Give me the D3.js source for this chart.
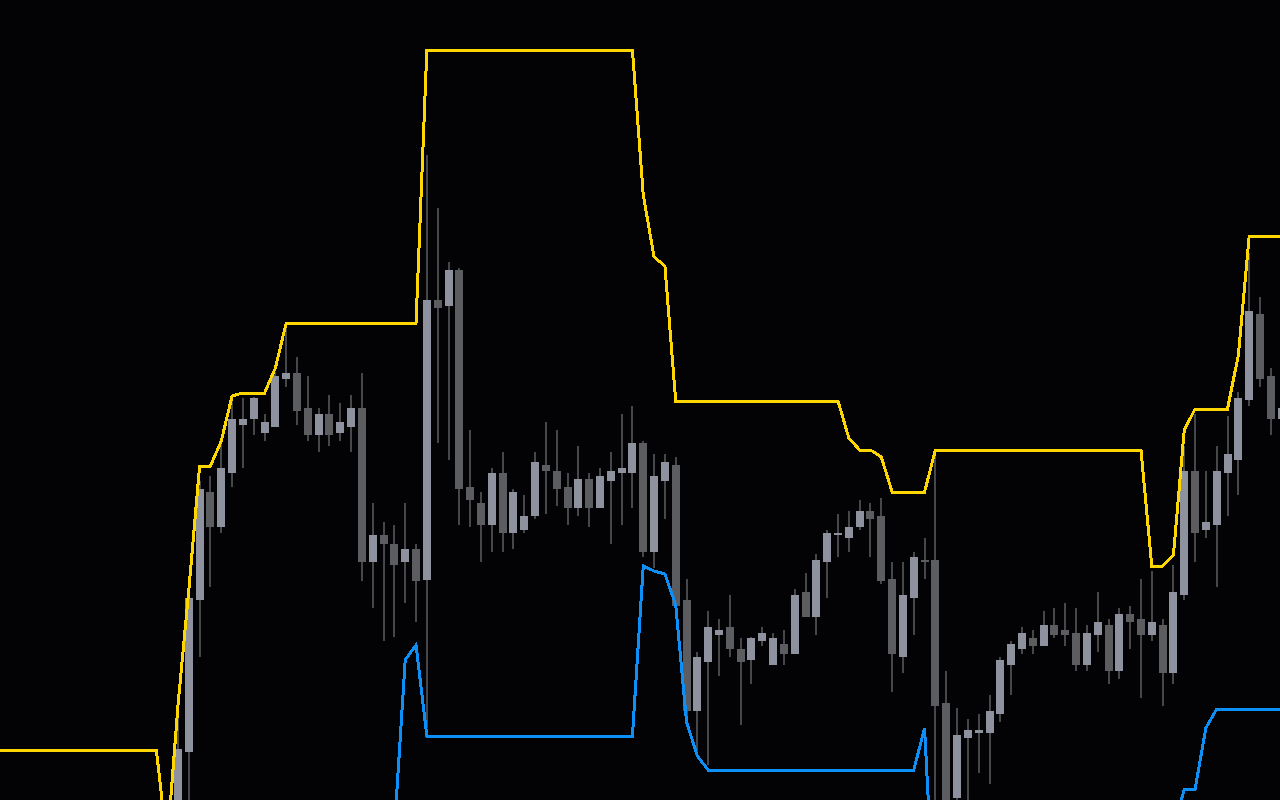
<!DOCTYPE html>
<html>
<head>
<meta charset="utf-8">
<script src="https://cdn.jsdelivr.net/npm/d3@7"></script>
<style>
  html, body { margin: 0; padding: 0; background: #030306; overflow: hidden; }
  svg { display: block; }
</style>
</head>
<body>
<svg id="chart" width="1280" height="800"></svg>
<script>
// ---------------- DATA ----------------
// Bar positions: band lines start 17 bars before the first visible candle.
const firstBar = -17;
const lastBar = 102;

// Candles (bar 0 .. bar 102)
const open = [
  16.0, 24.8, 40.0, 50.8, 47.3, 52.7, 57.5, 58.1, 56.7, 57.3,
  62.1, 62.7, 59.2, 56.5, 58.6, 56.7, 57.3, 59.2, 43.8, 46.5,
  45.6, 43.8, 45.1, 42.0, 70.0, 69.4, 73.0, 51.3, 49.7, 47.5,
  52.7, 46.7, 47.0, 48.4, 53.5, 52.9, 51.3, 49.2, 52.1, 49.2,
  51.9, 52.7, 52.7, 55.7, 44.8, 51.9, 53.5, 40.0, 28.9, 33.8,
  36.5, 37.3, 35.1, 34.0, 35.9, 33.5, 35.6, 34.6, 40.8, 38.3,
  43.8, 46.5, 46.2, 47.3, 48.9, 48.4, 42.1, 34.3, 40.2, 44.0,
  44.0, 29.7, 20.2, 26.2, 26.7, 26.7, 28.6, 33.5, 35.1, 36.2,
  35.4, 37.5, 37.0, 36.7, 33.5, 36.5, 37.5, 32.9, 38.6, 38.1,
  36.5, 37.5, 32.7, 40.5, 52.9, 47.0, 47.5, 52.7, 54.0, 60.0,
  68.6, 62.4, 58.1
];
const high = [
  28.2, 40.5, 51.9, 52.4, 55.7, 60.0, 60.2, 60.3, 58.6, 62.8,
  67.2, 64.3, 62.4, 59.2, 60.5, 59.7, 60.5, 62.7, 49.7, 47.8,
  47.5, 49.7, 45.6, 84.5, 79.2, 73.8, 73.2, 57.0, 50.8, 53.2,
  54.8, 51.1, 50.5, 54.8, 57.8, 57.0, 52.7, 55.4, 52.7, 53.2,
  54.8, 58.6, 59.4, 55.9, 54.6, 54.6, 54.3, 42.1, 34.8, 38.9,
  38.1, 40.5, 36.2, 36.3, 37.3, 36.7, 37.0, 41.1, 42.7, 44.6,
  47.0, 48.6, 48.9, 50.0, 49.7, 50.2, 43.8, 43.8, 44.8, 46.2,
  54.8, 32.9, 29.2, 28.1, 28.6, 30.5, 34.3, 35.9, 37.3, 37.0,
  38.9, 39.2, 39.7, 39.2, 37.5, 40.8, 38.1, 39.2, 39.4, 42.1,
  42.9, 38.1, 43.5, 55.4, 58.6, 52.9, 55.4, 58.4, 60.8, 74.7,
  70.3, 63.2, 60.0
];
const low = [
  14.0, 18.5, 34.3, 41.3, 46.7, 51.3, 53.2, 56.5, 55.9, 57.3,
  61.3, 57.5, 55.9, 54.8, 55.4, 55.9, 54.8, 41.9, 39.2, 35.9,
  36.3, 39.7, 37.8, 27.2, 55.7, 54.0, 47.5, 47.3, 43.8, 44.8,
  44.8, 45.1, 46.7, 48.1, 48.6, 49.4, 47.5, 48.4, 47.3, 49.2,
  45.6, 47.5, 49.2, 44.3, 43.2, 48.1, 39.2, 28.1, 24.8, 23.5,
  32.4, 34.3, 27.5, 31.6, 35.4, 33.5, 33.5, 34.6, 38.3, 36.5,
  40.2, 44.3, 44.8, 47.0, 44.3, 41.6, 30.8, 32.7, 36.5, 42.1,
  19.5, 18.8, 19.2, 19.5, 22.7, 21.6, 27.8, 30.5, 34.6, 34.6,
  35.4, 36.2, 35.4, 32.9, 32.9, 34.8, 31.6, 32.1, 35.1, 30.2,
  35.9, 29.4, 31.6, 40.0, 43.8, 46.2, 41.3, 48.4, 50.5, 59.4,
  61.3, 56.5, 57.5
];
const close = [
  25.1, 40.2, 51.1, 47.3, 53.2, 58.1, 58.1, 60.2, 57.8, 62.4,
  62.7, 58.9, 56.5, 58.6, 56.5, 57.8, 59.2, 43.8, 46.5, 45.6,
  43.5, 45.1, 41.9, 70.0, 69.2, 73.0, 51.1, 50.0, 47.5, 52.7,
  46.7, 50.8, 48.4, 53.8, 52.9, 51.1, 49.2, 52.1, 49.2, 52.4,
  52.9, 53.2, 55.7, 44.8, 52.4, 53.8, 39.4, 28.9, 34.3, 37.3,
  37.0, 35.1, 33.8, 36.2, 36.7, 36.2, 34.6, 40.5, 38.3, 44.0,
  46.7, 46.7, 47.3, 48.9, 48.1, 41.9, 34.6, 40.5, 44.3, 43.9,
  29.4, 20.0, 26.5, 27.0, 27.0, 28.9, 34.0, 35.6, 36.7, 35.4,
  37.5, 36.5, 36.5, 33.5, 36.7, 37.8, 32.9, 38.6, 37.8, 36.5,
  37.8, 32.7, 40.8, 52.9, 46.7, 47.8, 52.9, 54.6, 60.2, 68.9,
  62.1, 58.1, 59.2
];

// Upper band (yellow), bar -17 .. bar 102
const upper = [
  25.0, 25.0, 25.0, 25.0, 25.0, 25.0, 25.0, 25.0, 25.0, 25.0, 25.0, 25.0, 25.0, 25.0, 25.0, 25.0,
  15.5,
  29.5, 41.0, 53.4, 53.4, 55.9, 60.4, 60.7, 60.7, 60.7, 63.2,
  67.7, 67.7, 67.7, 67.7, 67.7, 67.7, 67.7, 67.7, 67.7, 67.7, 67.7, 67.7, 67.7,
  95.0, 95.0, 95.0, 95.0, 95.0, 95.0, 95.0, 95.0, 95.0, 95.0,
  95.0, 95.0, 95.0, 95.0, 95.0, 95.0, 95.0, 95.0, 95.0, 95.0,
  80.5, 74.3, 73.4,
  59.9, 59.9, 59.9, 59.9, 59.9, 59.9, 59.9, 59.9, 59.9, 59.9, 59.9, 59.9, 59.9, 59.9, 59.9, 59.9,
  56.2, 55.0, 55.0, 54.3,
  50.8, 50.8, 50.8, 50.8,
  55.0, 55.0, 55.0, 55.0, 55.0, 55.0, 55.0, 55.0, 55.0, 55.0,
  55.0, 55.0, 55.0, 55.0, 55.0, 55.0, 55.0, 55.0, 55.0, 55.0,
  43.4, 43.4, 44.5, 57.0,
  59.1, 59.1, 59.1, 59.1,
  64.5,
  76.4, 76.4, 76.4, 76.4
];

// Lower band (blue), bar -17 .. bar 102 (null where it is below the view)
const lower = [
  null, null, null, null, null, null, null, null, null, null,
  null, null, null, null, null, null, null, null, null, null,
  null, null, null, null, null, null, null, null, null, null,
  null, null, null, null, null, null, null,
  17.0, 34.0, 35.5,
  26.4, 26.4, 26.4, 26.4, 26.4, 26.4, 26.4, 26.4, 26.4, 26.4,
  26.4, 26.4, 26.4, 26.4, 26.4, 26.4, 26.4, 26.4, 26.4, 26.4,
  43.4, 42.9, 42.6, 39.5, 27.8, 24.4,
  23.0, 23.0, 23.0, 23.0, 23.0, 23.0, 23.0, 23.0, 23.0, 23.0,
  23.0, 23.0, 23.0, 23.0, 23.0, 23.0, 23.0, 23.0, 23.0, 23.0,
  27.2, 6.0,
  null, null, null, null, null, null, null, null, null, null,
  null, null, null, null, null, null, null, null, null, null, null,
  17.0, 21.1, 21.1, 27.2,
  29.1, 29.1, 29.1, 29.1, 29.1, 29.1, 29.1
];

// ---------------- CHART ----------------
const W = 1280, H = 800;
const svg = d3.select('#chart');
svg.append('rect').attr('width', W).attr('height', H).attr('fill', '#030306');

const x = d3.scaleLinear().domain([firstBar, lastBar]).range([-5.94, 1281.64]);
const y = d3.scaleLinear().domain([20, 100]).range([H, 0]);

const candles = open.map((o, i) => ({ bar: i, o, h: high[i], l: low[i], c: close[i] }));

const g = svg.append('g').attr('shape-rendering', 'crispEdges');

// wicks
g.selectAll('rect.wick').data(candles).join('rect')
  .attr('class', 'wick')
  .attr('x', d => Math.round(x(d.bar)) - 1)
  .attr('width', 2)
  .attr('y', d => y(d.h))
  .attr('height', d => Math.max(1, y(d.l) - y(d.h)))
  .attr('fill', '#46474b');

// bodies
g.selectAll('rect.body').data(candles).join('rect')
  .attr('class', 'body')
  .attr('x', d => Math.round(x(d.bar)) - 4)
  .attr('width', 8)
  .attr('y', d => y(Math.max(d.o, d.c)))
  .attr('height', d => Math.max(2, Math.abs(y(d.o) - y(d.c))))
  .attr('fill', d => d.c >= d.o ? '#8e929e' : '#5c5d61');

// bands
const barIndex = upper.map((_, j) => firstBar + j);
const line = d3.line()
  .defined(d => d != null)
  .x((d, j) => x(barIndex[j]))
  .y(d => y(d));

svg.append('path').datum(upper)
  .attr('d', line)
  .attr('fill', 'none')
  .attr('stroke', '#ffd700')
  .attr('stroke-width', 3)
  .attr('stroke-linejoin', 'miter')
  .attr('shape-rendering', 'crispEdges');

svg.append('path').datum(lower)
  .attr('d', line)
  .attr('fill', 'none')
  .attr('stroke', '#0c8ff7')
  .attr('stroke-width', 3)
  .attr('stroke-linejoin', 'miter')
  .attr('shape-rendering', 'crispEdges');
</script>
</body>
</html>
